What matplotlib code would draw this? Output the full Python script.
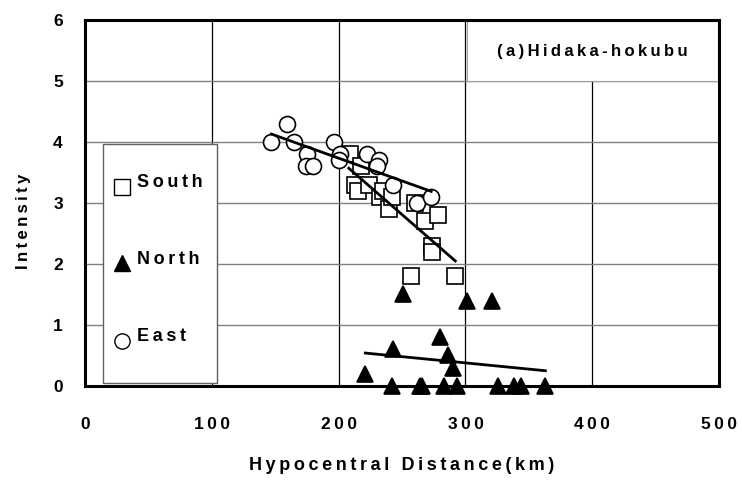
import matplotlib.pyplot as plt
from matplotlib.patches import Rectangle

plt.rcParams['font.family'] = ['Liberation Sans', 'DejaVu Sans']

# 読み取った値
south_x = [209, 213, 215, 218, 224, 233, 235, 240, 242, 260, 268, 274, 274, 278, 257, 292]
south_y = [3.8, 3.3, 3.2, 3.6, 3.3, 3.1, 3.2, 2.9, 3.1, 3.0, 2.7, 2.3, 2.2, 2.8, 1.8, 1.8]

north_x = [251, 301, 321, 280, 243, 286, 290, 221, 242, 264, 266, 283, 293, 326, 338, 344, 363]
north_y = [1.5, 1.4, 1.4, 0.8, 0.6, 0.5, 0.3, 0.2, 0, 0, 0, 0, 0, 0, 0, 0, 0]

east_x = [147, 159, 165, 175, 174, 180, 196, 201, 200, 222, 232, 230, 243, 262, 273]
east_y = [4.0, 4.3, 4.0, 3.8, 3.6, 3.6, 4.0, 3.8, 3.7, 3.8, 3.7, 3.6, 3.3, 3.0, 3.1]

# 回帰直線の端点
south_fit_x = [208, 292]
south_fit_y = [3.57, 2.05]
north_fit_x = [221, 363]
north_fit_y = [0.54, 0.25]
east_fit_x = [147, 273]
east_fit_y = [4.13, 3.19]

x_ticks = [0, 100, 200, 300, 400, 500]
y_ticks = [0, 1, 2, 3, 4, 5, 6]


def spaced(s, sep='\u2009'):
    # 字間を広げる
    return sep.join(s)


fig = plt.figure(figsize=(7.42, 4.84), dpi=100)
ax = fig.add_axes([0.1146, 0.2025, 0.8545, 0.7562])
ax.set_xlim(0, 500)
ax.set_ylim(0, 6)

ax.set_xticks(x_ticks)
ax.set_yticks(y_ticks)
ax.set_xticklabels([spaced(str(t)) for t in x_ticks])
ax.set_yticklabels([str(t) for t in y_ticks])
ax.tick_params(length=0, labelsize=12.5)
ax.tick_params(axis='x', pad=22)
ax.tick_params(axis='y', pad=16)
for lab in ax.get_xticklabels() + ax.get_yticklabels():
    lab.set_fontweight('bold')

ax.set_axisbelow(True)
ax.yaxis.grid(True, color='#808080', linewidth=1.0)
ax.xaxis.grid(True, color='black', linewidth=0.9)
for sp in ax.spines.values():
    sp.set_linewidth(2.2)
    sp.set_color('black')

# 凡例ボックスと注記ボックス
ax.add_patch(Rectangle((14, 0.05), 90, 3.92, facecolor='white',
                       edgecolor='#606060', linewidth=1.0, zorder=1.5))
ax.add_patch(Rectangle((301, 5.0), 198, 0.99, facecolor='white',
                       edgecolor='#a0a0a0', linewidth=0.8, zorder=1.5))
ax.text(400, 5.48, spaced('(a)Hidaka-hokubu'), ha='center', va='center',
        fontsize=12, fontweight='bold', zorder=3)

mk = dict(linestyle='none', markeredgecolor='black', markeredgewidth=1.2,
          clip_on=False, zorder=3)
ax.plot(south_x, south_y, marker='s', markersize=11, markerfacecolor='white', **mk)
ax.plot(north_x, north_y, marker='^', markersize=12, markerfacecolor='black', **mk)
ax.plot(east_x, east_y, marker='o', markersize=11.5, markerfacecolor='white', **mk)

for fx, fy in [(south_fit_x, south_fit_y), (north_fit_x, north_fit_y),
               (east_fit_x, east_fit_y)]:
    ax.plot(fx, fy, color='black', linewidth=2.0, zorder=4)

# 凡例の中身
legend_items = [('South', 's', 'white', 3.3), ('North', '^', 'black', 2.05),
                ('East', 'o', 'white', 0.78)]
for name, m, fc, yy in legend_items:
    ax.plot([29], [yy - 0.04], marker=m, markersize=11, markerfacecolor=fc,
            markeredgecolor='black', markeredgewidth=1.0, linestyle='none', zorder=3)
    ax.text(41, yy + 0.03, spaced(name), ha='left', va='center', fontsize=13,
            fontweight='bold', zorder=3)

ax.set_xlabel(spaced('Hypocentral Distance(km)'), fontsize=13,
              fontweight='bold', labelpad=18)
ax.set_ylabel(spaced('Intensity'), fontsize=12, fontweight='bold')
ax.yaxis.set_label_coords(-0.085, 0.45)

fig.savefig('out.png', dpi=100)
